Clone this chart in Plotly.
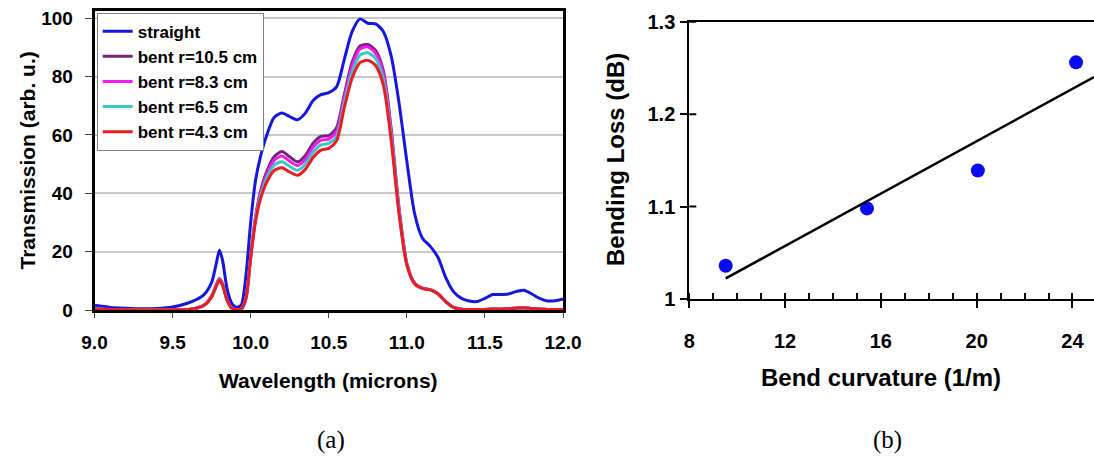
import numpy as np
import plotly.graph_objects as go

# ---------------- data: panel (a) ----------------
wavelength = [9.0, 9.1, 9.2, 9.3, 9.4, 9.5, 9.6, 9.65, 9.7, 9.75,
              9.78, 9.8, 9.82, 9.85, 9.88, 9.91, 9.94, 9.97, 10.0, 10.03,
              10.06, 10.1, 10.15, 10.2, 10.25, 10.3, 10.35, 10.4, 10.45, 10.5,
              10.55, 10.6, 10.65, 10.7, 10.75, 10.8, 10.85, 10.9, 10.95, 11.0,
              11.05, 11.1, 11.15, 11.2, 11.25, 11.3, 11.35, 11.4, 11.45, 11.5,
              11.55, 11.6, 11.65, 11.7, 11.75, 11.8, 11.85, 11.9, 11.95, 12.0]

straight = [1.6, 0.9, 0.6, 0.4, 0.5, 1.0, 2.4, 3.5, 5.2, 9.5,
            16.0, 20.5, 17.0, 7.0, 2.2, 0.9, 1.8, 12.0, 30.0, 44.0,
            52.0, 59.5, 66.0, 67.5, 66.3, 65.2, 67.5, 71.8, 73.8, 74.5,
            76.5, 86.0, 95.5, 99.8, 98.3, 98.1, 95.4, 87.0, 71.0, 51.0,
            33.0, 24.6, 21.8, 18.0, 11.0, 6.2, 4.0, 3.1, 2.9, 4.0,
            5.3, 5.3, 5.5, 6.3, 6.8, 5.5, 4.0, 3.1, 3.2, 3.8]

bent_105 = [0.3, 0.2, 0.1, 0.1, 0.1, 0.1, 0.2, 0.6, 1.6, 4.8,
            8.7, 10.8, 9.0, 3.4, 0.6, 0.1, 0.4, 4.2, 18.5, 31.5,
            40.0, 47.0, 52.5, 54.3, 52.5, 50.8, 53.0, 57.2, 59.5, 59.8,
            62.5, 74.0, 85.0, 90.5, 91.0, 89.0, 82.0, 62.0, 35.0, 16.0,
            9.2, 7.5, 7.0, 5.6, 2.9, 0.9, 0.3, 0.2, 0.2, 0.2,
            0.3, 0.3, 0.4, 0.6, 0.8, 0.5, 0.3, 0.2, 0.2, 0.2]

bent_83 = [0.3, 0.2, 0.1, 0.1, 0.1, 0.1, 0.2, 0.6, 1.6, 4.7,
           8.5, 10.6, 8.8, 3.3, 0.6, 0.1, 0.4, 4.1, 18.3, 31.0,
           39.2, 46.0, 51.3, 52.8, 51.0, 49.5, 51.6, 55.8, 58.2, 58.6,
           61.2, 72.8, 83.6, 89.5, 90.2, 88.0, 81.0, 61.0, 34.5, 15.8,
           9.1, 7.5, 7.0, 5.6, 2.9, 0.9, 0.3, 0.2, 0.2, 0.2,
           0.3, 0.3, 0.4, 0.6, 0.8, 0.5, 0.3, 0.2, 0.2, 0.2]

bent_65 = [0.3, 0.2, 0.1, 0.1, 0.1, 0.1, 0.2, 0.6, 1.5, 4.6,
           8.4, 10.4, 8.6, 3.2, 0.6, 0.1, 0.4, 4.0, 18.1, 30.6,
           38.4, 44.8, 49.6, 50.8, 49.2, 47.9, 50.0, 54.1, 56.6, 57.1,
           59.6, 71.2, 81.6, 87.4, 88.2, 86.2, 79.0, 59.5, 33.8, 15.6,
           9.0, 7.4, 6.9, 5.5, 2.8, 0.9, 0.3, 0.2, 0.2, 0.2,
           0.3, 0.3, 0.4, 0.6, 0.8, 0.5, 0.3, 0.2, 0.2, 0.2]

bent_43 = [0.3, 0.2, 0.1, 0.1, 0.1, 0.1, 0.2, 0.6, 1.5, 4.5,
           8.2, 10.2, 8.5, 3.2, 0.6, 0.1, 0.4, 4.0, 18.0, 30.0,
           37.5, 43.5, 47.8, 48.8, 47.3, 46.2, 48.2, 52.3, 54.8, 55.4,
           58.0, 69.5, 79.5, 84.8, 85.6, 83.8, 77.0, 58.0, 33.0, 15.5,
           9.0, 7.4, 6.9, 5.5, 2.8, 0.9, 0.3, 0.2, 0.2, 0.2,
           0.3, 0.3, 0.4, 0.6, 0.8, 0.5, 0.3, 0.2, 0.2, 0.2]

series_names = ["straight", "bent r=10.5 cm", "bent r=8.3 cm", "bent r=6.5 cm", "bent r=4.3 cm"]
series_values = [straight, bent_105, bent_83, bent_65, bent_43]
series_colors = ["#1616dc", "#7a237a", "#f21cf2", "#3cc6c6", "#ec1c24"]

# ---------------- data: panel (b) ----------------
curvature = [9.52, 15.42, 20.05, 24.15]
bend_loss = [1.036, 1.098, 1.139, 1.256]

x_ticks_b = [8, 12, 16, 20, 24]
y_ticks_b = [1.0, 1.1, 1.2, 1.3]
y_ticktext_b = ["1", "1.1", "1.2", "1.3"]

W, H = 1094, 466
FONT = "Liberation Sans, Arial, sans-serif"

# panel geometry (pixels)
A_L, A_R, A_T, A_B = 94.5, 563, 11, 310
B_L, B_R, B_T, B_B = 689.3, 1094, 21.7, 299
xb_min, xb_max = 8, 24.9

fig = go.Figure()

for name, vals, col in zip(series_names, series_values, series_colors):
    fig.add_trace(go.Scatter(x=wavelength, y=vals, name=name, mode="lines",
                             line=dict(color=col, width=3, shape="spline", smoothing=0.7),
                             xaxis="x", yaxis="y"))

# panel (b): points + least-squares line
fig.add_trace(go.Scatter(x=curvature, y=bend_loss, mode="markers",
                         marker=dict(color="#0b0bf0", size=14),
                         showlegend=False, xaxis="x2", yaxis="y2"))
slope, intercept = np.polyfit(curvature, bend_loss, 1)
fit_x = [min(curvature), xb_max]
fit_y = [slope * v + intercept for v in fit_x]
fig.add_trace(go.Scatter(x=fit_x, y=fit_y, mode="lines",
                         line=dict(color="black", width=2.5),
                         showlegend=False, xaxis="x2", yaxis="y2"))

tickfont = dict(family=FONT, size=19, color="black", weight="bold")
tickfont_b = dict(family=FONT, size=20, color="black", weight="bold")

fig.update_layout(
    width=W, height=H,
    margin=dict(l=0, r=0, t=0, b=0, autoexpand=False),
    paper_bgcolor="white", plot_bgcolor="white",
    showlegend=True,
    legend=dict(x=96.7 / W, y=1 - 12.7 / H, xanchor="left", yanchor="top",
                bgcolor="white", bordercolor="#808080", borderwidth=1,
                font=dict(family=FONT, size=17, color="black", weight="bold"),
                itemwidth=30, tracegroupgap=0),
    xaxis=dict(domain=[A_L / W, A_R / W], range=[9, 12], dtick=0.5, tick0=9,
               tickformat=".1f", ticks="outside", ticklen=5, tickcolor="#444",
               ticklabelstandoff=8,
               showline=True, linecolor="black", linewidth=2.5, mirror=True,
               showgrid=False, zeroline=False, tickfont=tickfont, anchor="y"),
    yaxis=dict(domain=[(H - A_B) / H, (H - A_T) / H], range=[0, 102.5], dtick=20, tick0=0,
               ticks="outside", ticklen=7, tickcolor="#444",
               ticklabelstandoff=8,
               showline=True, linecolor="black", linewidth=2.5, mirror=True,
               showgrid=True, gridcolor="#c8c8c8", gridwidth=2,
               zeroline=False, tickfont=tickfont, anchor="x"),
    xaxis2=dict(domain=[B_L / W, B_R / W], range=[xb_min, xb_max], tickmode="linear", tick0=8, dtick=4,
                ticks="outside", ticklen=7, tickwidth=2, tickcolor="black",
                minor=dict(ticks="inside", tick0=8, dtick=1, ticklen=6, tickwidth=2, tickcolor="black"),
                ticklabelstandoff=16,
                showline=True, linecolor="black", linewidth=2, mirror=True,
                showgrid=False, zeroline=False, tickfont=tickfont_b, anchor="y2"),
    yaxis2=dict(domain=[(H - B_B) / H, (H - B_T) / H], range=[1.0, 1.3],
                tickvals=y_ticks_b, ticktext=y_ticktext_b,
                ticks="outside", ticklen=7, tickwidth=2, tickcolor="black",
                ticklabelstandoff=1,
                showline=True, linecolor="black", linewidth=2, mirror=False,
                showgrid=False, zeroline=False, tickfont=tickfont_b, anchor="x2"),
)

# inner halves of the cross-style y ticks in panel (b)
x_in = 7 / (B_R - B_L)
for v in y_ticks_b[1:]:
    fig.add_shape(type="line", xref="x2 domain", yref="y2", x0=0, x1=x_in, y0=v, y1=v,
                  line=dict(color="black", width=2))

ann = [
    dict(text="Transmission (arb. u.)", x=27, y=160.5, textangle=-90, size=21),
    dict(text="Wavelength (microns)", x=328.8, y=380, textangle=0, size=21),
    dict(text="Bending Loss (dB)", x=615, y=160, textangle=-90, size=24),
    dict(text="Bend curvature (1/m)", x=881, y=377, textangle=0, size=24),
]
for a in ann:
    fig.add_annotation(text=a["text"], x=a["x"] / W, y=1 - a["y"] / H, xref="paper", yref="paper",
                       xanchor="center", yanchor="middle", showarrow=False, textangle=a["textangle"],
                       font=dict(family=FONT, size=a["size"], color="black", weight="bold"))

for lab, xc in [("(a)", 331), ("(b)", 887)]:
    fig.add_annotation(text=lab, x=xc / W, y=1 - 440 / H, xref="paper", yref="paper",
                       xanchor="center", yanchor="middle", showarrow=False,
                       font=dict(family="Liberation Serif, Times New Roman, serif", size=25, color="black"))

fig.write_html("out.html")
